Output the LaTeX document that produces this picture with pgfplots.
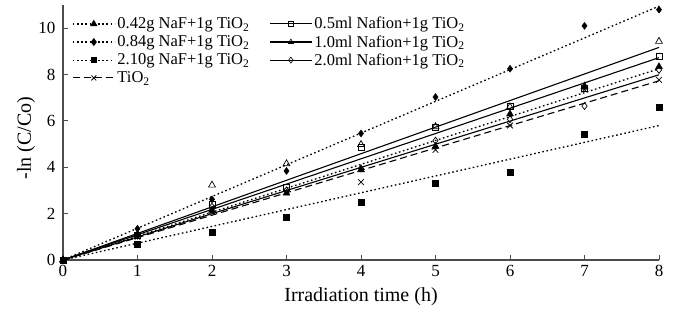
\documentclass[border=0pt]{standalone}
\usepackage{pgfplots}
\pgfplotsset{compat=1.18}
\usepackage{fontspec}
\setmainfont{Liberation Serif}
\begin{document}
\begin{tikzpicture}
\tikzset{dotl/.style={dash pattern=on 1.6pt off 2.6pt, line width=1.3pt},
 soll/.style={solid, line width=1.1pt},
 dashl/.style={dash pattern=on 7pt off 4pt, line width=1.1pt}}
\begin{axis}[
 scale only axis, width=596pt, height=255pt,
 xmin=0, xmax=8, ymin=0, ymax=11,
 axis x line*=bottom, axis y line*=left,
 axis line style={-, line width=1.3pt, black!70},
 xtick={0,1,...,8}, ytick={0,2,...,10},
 tick align=inside, major tick length=5pt,
 tick style={black!70, line width=1pt},
 ticklabel style={font=\fontsize{17}{20}\selectfont},
 xticklabel style={yshift=-2pt},
 yticklabel style={xshift=-4pt},
 /pgf/number format/assume math mode=true,
 xlabel={Irradiation time (h)}, ylabel={-ln (C/Co)},
 label style={font=\fontsize{20}{24}\selectfont},
 xlabel style={at={(axis description cs:0.5,-0.145)}, anchor=center},
 ylabel style={at={(axis description cs:-0.062,0.478)}, anchor=center},
 clip=false,
 legend columns=2,
 legend cell align=left,
 legend style={at={(rel axis cs:0.01,0.968)}, anchor=north west, draw=none, fill=none,
   font=\fontsize{16.5}{18}\selectfont, row sep=1pt,
   /tikz/every even column/.append style={column sep=18pt}},
 legend image code/.code={\draw[mark repeat=2,mark phase=2,#1] plot coordinates {(0pt,0pt) (21pt,0pt) (42pt,0pt)};},
 every axis plot/.append style={black},
]
% trend lines
\addplot[dotl, forget plot] coordinates {(0,0) (8,8.25)};
\addplot[dotl, forget plot] coordinates {(0,0) (8,10.95)};
\addplot[dotl, forget plot] coordinates {(0,0) (8,5.8)};
\addplot[dashl, forget plot] coordinates {(0,0) (8,7.73)};
\addplot[soll, forget plot] coordinates {(0,0) (8,8.73)};
\addplot[soll, forget plot] coordinates {(0,0) (8,9.17)};
\addplot[soll, forget plot] coordinates {(0,0) (8,7.99)};
% data points
\addplot[only marks, mark=square*, mark size=3pt, forget plot] coordinates {(0,0) (1,0.7) (2,1.18) (3,1.83) (4,2.49) (5,3.3) (6,3.8) (7,5.41) (8,6.58)};
\addplot[only marks, mark=x, mark size=4pt, line width=0.8pt, forget plot] coordinates {(0,0) (1,1.0) (2,2.1) (3,2.95) (4,3.36) (5,4.75) (6,5.8) (7,7.35) (8,7.77)};
\addplot[only marks, mark=diamond, mark size=3.5pt, fill=white, line width=0.7pt, forget plot] coordinates {(0,0) (1,1.05) (2,2.3) (3,3.0) (4,3.95) (5,5.15) (6,6.07) (7,6.64) (8,8.2)};
\addplot[only marks, mark=square, mark size=3pt, fill=white, line width=0.7pt, forget plot] coordinates {(0,0) (1,1.05) (2,2.4) (3,3.14) (4,4.85) (5,5.72) (6,6.64) (7,7.4) (8,8.78)};
\addplot[only marks, mark=triangle, mark size=4pt, fill=white, line width=0.7pt, forget plot] coordinates {(0,0) (1,1.1) (2,3.23) (3,4.15) (4,4.98) (5,5.75) (6,6.6) (7,7.5) (8,9.43)};
\addplot[only marks, mark=triangle*, mark size=4pt, forget plot] coordinates {(0,0) (1,1.1) (2,2.14) (3,2.88) (4,3.89) (5,4.9) (6,6.3) (7,7.45) (8,8.34)};
\addplot[only marks, mark=diamond*, mark size=3.5pt, forget plot] coordinates {(0,0) (1,1.35) (2,2.62) (3,3.84) (4,5.46) (5,7.03) (6,8.25) (7,10.1) (8,10.8)};
% legend
\addlegendimage{dotl, mark=triangle*, mark size=3pt, mark options={solid}}
\addlegendentry{0.42g NaF+1g TiO\textsubscript{2}}
\addlegendimage{soll, mark=square, mark size=2.5pt, mark options={fill=white, line width=0.6pt}}
\addlegendentry{0.5ml Nafion+1g TiO\textsubscript{2}}
\addlegendimage{dotl, mark=diamond*, mark size=3pt, mark options={solid}}
\addlegendentry{0.84g NaF+1g TiO\textsubscript{2}}
\addlegendimage{soll, mark=triangle, mark size=3pt, mark options={fill=white, line width=0.6pt}}
\addlegendentry{1.0ml Nafion+1g TiO\textsubscript{2}}
\addlegendimage{dotl, mark=square*, mark size=2.5pt, mark options={solid}}
\addlegendentry{2.10g NaF+1g TiO\textsubscript{2}}
\addlegendimage{soll, mark=diamond, mark size=3pt, mark options={fill=white, line width=0.6pt}}
\addlegendentry{2.0ml Nafion+1g TiO\textsubscript{2}}
\addlegendimage{dashl, mark=x, mark size=3.5pt, mark options={solid, line width=0.8pt}}
\addlegendentry{TiO\textsubscript{2}}
\end{axis}
\path ([shift={(-63pt,-61pt)}]current axis.south west) rectangle ([shift={(21pt,5pt)}]current axis.north east);
\end{tikzpicture}
\end{document}
